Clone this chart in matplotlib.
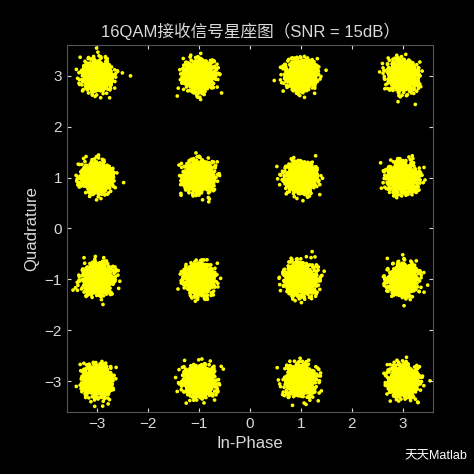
import numpy as np
import matplotlib.pyplot as plt

plt.rcParams['font.family'] = ['Liberation Sans', 'Noto Sans CJK SC']

# 16QAM constellation levels
levels = [-3, -1, 1, 3]
samples_per_point = 1000
noise_std = 0.14  # spread of each cluster

# received symbols: ideal point + seeded gaussian noise (the chart shows noise samples)
rng = np.random.default_rng(15)
I_ideal = np.repeat([i for i in levels for q in levels], samples_per_point)
Q_ideal = np.repeat([q for i in levels for q in levels], samples_per_point)
I_rx = I_ideal + rng.normal(0, noise_std, I_ideal.size)
Q_rx = Q_ideal + rng.normal(0, noise_std, Q_ideal.size)

ticks = [-3, -2, -1, 0, 1, 2, 3]
fg = "#d9d9d9"

fig = plt.figure(figsize=(4.74, 4.74), dpi=100, facecolor="black")
ax = fig.add_axes([0.141, 0.131, 0.773, 0.774], facecolor="black")
ax.scatter(I_rx, Q_rx, s=7, color="#ffff00", edgecolors="none")

ax.set_xlim(-3.6, 3.6)
ax.set_ylim(-3.6, 3.6)
ax.set_xticks(ticks)
ax.set_yticks(ticks)
ax.tick_params(colors=fg, labelsize=11, direction="in", top=True, right=True, length=3)
for sp in ax.spines.values():
    sp.set_color("#555555")
ax.set_xlabel("In-Phase", color=fg, fontsize=12)
ax.set_ylabel("Quadrature", color=fg, fontsize=12)
ax.set_title("16QAM接收信号星座图（SNR = 15dB）", color=fg, fontsize=12)

fig.text(0.985, 0.025, "天天Matlab", color="white", fontsize=9, ha="right", va="bottom")

fig.savefig("out.png", dpi=100, facecolor="black")
